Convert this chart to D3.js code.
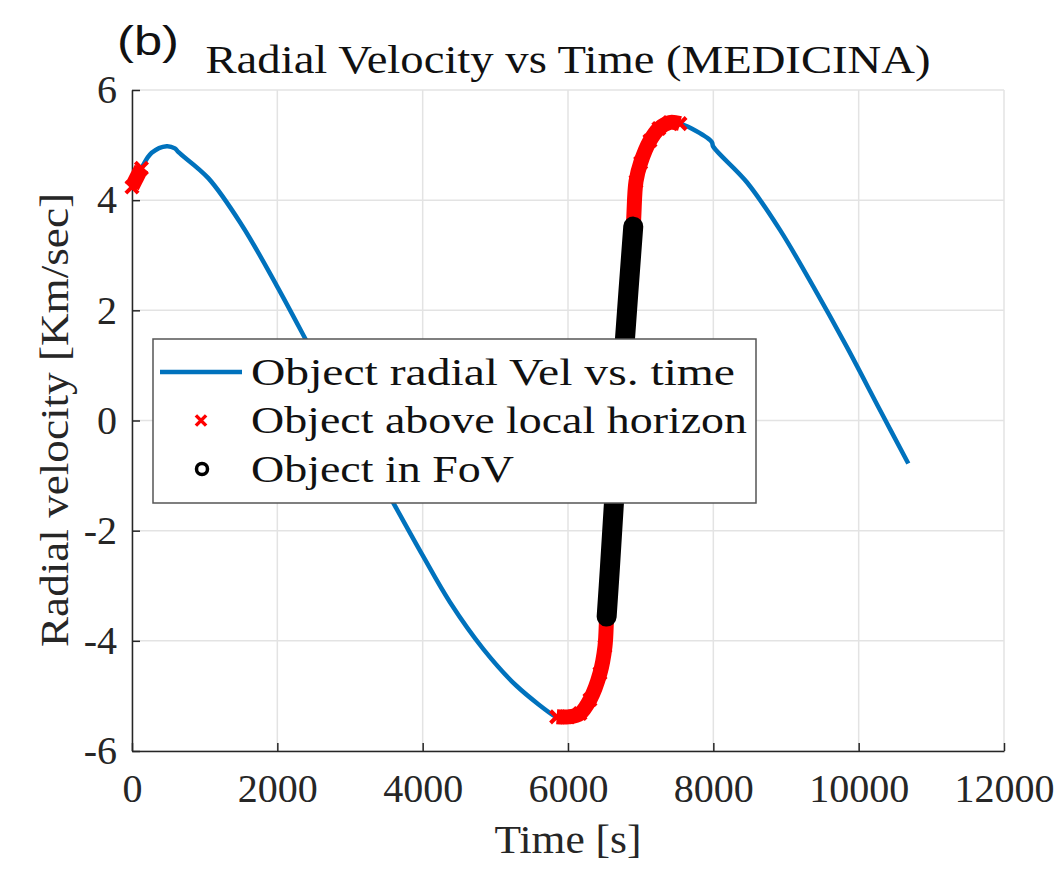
<!DOCTYPE html>
<html>
<head>
<meta charset="utf-8">
<script src="https://cdn.jsdelivr.net/npm/d3@7"></script>
<style>
  body { margin: 0; background: #fff; }
  svg { display: block; }
</style>
</head>
<body>
<svg id="chart"></svg>
<script>
// trajectory: time [s] and radial velocity [km/s]
const timeS = [0, 130, 271, 477, 590, 640, 1050, 1510, 1991, 2427, 2800, 3200,
  3619, 4000, 4376, 4835, 5294, 5821, 5844, 6004, 6165, 6302, 6440,
  6509, 6532, 6578, 6633, 6708, 6784, 6898, 6936, 7000, 7128, 7250, 7400,
  7541, 7700, 7977, 8000, 8459, 8917, 9376, 9835, 10293, 10683];
const velKms = [4.24, 4.58, 4.86, 4.98, 4.94, 4.87, 4.40, 3.55, 2.45, 1.38, 0.45, -0.55,
  -1.55, -2.45, -3.30, -4.15, -4.82, -5.37, -5.38, -5.38, -5.32, -5.07, -4.59,
  -4.10, -3.56, -2.65, -1.48, 0, 1.48, 3.52, 4.34, 4.68, 5.08, 5.30, 5.41,
  5.39, 5.30, 5.06, 4.97, 4.33, 3.46, 2.43, 1.34, 0.19, -0.78];

// time windows (s) where the object is above horizon / inside the field of view
const horizonWindows = [[0, 130], [5844, 7541]];
const fovWindows = [[6532, 6898]];

const xTicks = [0, 2000, 4000, 6000, 8000, 10000, 12000];
const yTicks = [-6, -4, -2, 0, 2, 4, 6];
const legendLabels = ['Object radial Vel vs. time', 'Object above local horizon', 'Object in FoV'];

const blue = '#0072BD';
const axisColor = '#262626';
const serif = '"Liberation Serif", "Times New Roman", serif';

const margin = {top: 90, right: 60, bottom: 122, left: 132};
const width = 1064 - margin.left - margin.right;
const height = 873 - margin.top - margin.bottom;

const root = d3.select('#chart')
  .attr('width', 1064)
  .attr('height', 873);

root.append('rect')
  .attr('width', 1064)
  .attr('height', 873)
  .attr('fill', '#fff');

const svg = root.append('g')
  .attr('transform', `translate(${margin.left}, ${margin.top})`);

const data = timeS.map((t, i) => ({t: t, v: velKms[i]}));

const x = d3.scaleLinear()
  .domain([0, 12000])
  .range([0, width]);

const y = d3.scaleLinear()
  .domain([-6, 6])
  .range([height, 0]);

// grid
svg.append('g')
  .selectAll('line')
  .data(xTicks)
  .enter()
  .append('line')
  .attr('x1', d => x(d))
  .attr('x2', d => x(d))
  .attr('y1', 0)
  .attr('y2', height)
  .attr('stroke', '#e3e3e3')
  .attr('stroke-width', 1.5);

svg.append('g')
  .selectAll('line')
  .data(yTicks)
  .enter()
  .append('line')
  .attr('x1', 0)
  .attr('x2', width)
  .attr('y1', d => y(d))
  .attr('y2', d => y(d))
  .attr('stroke', '#e3e3e3')
  .attr('stroke-width', 1.5);

// axes
const xAxis = svg.append('g')
  .attr('transform', `translate(0, ${height})`)
  .call(d3.axisBottom(x).tickValues(xTicks).tickSize(-8).tickSizeOuter(0).tickPadding(23)
    .tickFormat(d3.format('d')));

const yAxis = svg.append('g')
  .call(d3.axisLeft(y).tickValues(yTicks).tickSize(-8).tickSizeOuter(0).tickPadding(15)
    .tickFormat(d => String(d)));

[xAxis, yAxis].forEach(ax => {
  ax.select('.domain').attr('stroke', axisColor).attr('stroke-width', 1.5);
  ax.selectAll('.tick line').attr('stroke', axisColor).attr('stroke-width', 1.5);
  ax.selectAll('.tick text')
    .attr('fill', axisColor)
    .style('font-family', serif)
    .style('font-size', '40px');
});

// curve
const line = d3.line()
  .x(d => x(d.t))
  .y(d => y(d.v))
  .curve(d3.curveCatmullRom.alpha(0.5));

svg.append('path')
  .datum(data)
  .attr('fill', 'none')
  .attr('stroke', blue)
  .attr('stroke-width', 4.5)
  .attr('d', line);

// above local horizon (red x markers)
const xSymbol = d3.symbol().type(d3.symbolTimes || d3.symbolX);

horizonWindows.forEach(w => {
  const pts = data.filter(d => d.t >= w[0] && d.t <= w[1]);
  svg.append('path')
    .datum(pts)
    .attr('fill', 'none')
    .attr('stroke', 'red')
    .attr('stroke-width', 15)
    .attr('d', line);
  svg.append('g')
    .selectAll('path')
    .data(pts)
    .enter()
    .append('path')
    .attr('transform', d => `translate(${x(d.t)}, ${y(d.v)})`)
    .attr('d', xSymbol.size(100))
    .attr('fill', 'none')
    .attr('stroke', 'red')
    .attr('stroke-width', 4);
});

// in field of view (black circles)
fovWindows.forEach(w => {
  const pts = data.filter(d => d.t >= w[0] && d.t <= w[1]);
  svg.append('path')
    .datum(pts)
    .attr('fill', 'none')
    .attr('stroke', 'black')
    .attr('stroke-width', 20)
    .attr('stroke-linecap', 'round')
    .attr('d', line);
  svg.append('g')
    .selectAll('circle')
    .data(pts)
    .enter()
    .append('circle')
    .attr('cx', d => x(d.t))
    .attr('cy', d => y(d.v))
    .attr('r', 7)
    .attr('fill', 'none')
    .attr('stroke', 'black')
    .attr('stroke-width', 4);
});

// texts
root.append('text')
  .attr('x', 117)
  .attr('y', 55)
  .attr('textLength', 62)
  .attr('lengthAdjust', 'spacingAndGlyphs')
  .style('font-family', '"Liberation Sans", Arial, sans-serif')
  .style('font-size', '41px')
  .attr('fill', '#111')
  .text('(b)');

svg.append('text')
  .attr('x', width / 2)
  .attr('y', -17)
  .attr('text-anchor', 'middle')
  .attr('textLength', 725)
  .attr('lengthAdjust', 'spacingAndGlyphs')
  .style('font-family', serif)
  .style('font-size', '39px')
  .attr('fill', '#111')
  .text('Radial Velocity vs Time (MEDICINA)');

svg.append('text')
  .attr('x', width / 2)
  .attr('y', height + 102)
  .attr('text-anchor', 'middle')
  .attr('textLength', 147)
  .attr('lengthAdjust', 'spacingAndGlyphs')
  .style('font-family', serif)
  .style('font-size', '40px')
  .attr('fill', axisColor)
  .text('Time [s]');

svg.append('text')
  .attr('transform', 'rotate(-90)')
  .attr('x', -(420 - margin.top))
  .attr('y', 68 - margin.left)
  .attr('text-anchor', 'middle')
  .attr('textLength', 454)
  .attr('lengthAdjust', 'spacingAndGlyphs')
  .style('font-family', serif)
  .style('font-size', '40px')
  .attr('fill', axisColor)
  .text('Radial velocity [Km/sec]');

// legend
const legend = svg.append('g')
  .attr('transform', `translate(${153 - margin.left}, ${339 - margin.top})`);

legend.append('rect')
  .attr('width', 603)
  .attr('height', 164)
  .attr('fill', '#fff')
  .attr('stroke', '#555')
  .attr('stroke-width', 1.5);

const rowY = [33, 81.5, 130];
const textLen = [484, 496, 263];

legend.append('line')
  .attr('x1', 7)
  .attr('x2', 89)
  .attr('y1', rowY[0])
  .attr('y2', rowY[0])
  .attr('stroke', blue)
  .attr('stroke-width', 4.5);

legend.append('path')
  .attr('transform', `translate(48, ${rowY[1]})`)
  .attr('d', xSymbol.size(70))
  .attr('fill', 'none')
  .attr('stroke', 'red')
  .attr('stroke-width', 3.5);

legend.append('circle')
  .attr('cx', 49)
  .attr('cy', rowY[2])
  .attr('r', 5.5)
  .attr('fill', 'none')
  .attr('stroke', 'black')
  .attr('stroke-width', 3.5);

legend.selectAll('text.lbl')
  .data(legendLabels)
  .enter()
  .append('text')
  .attr('class', 'lbl')
  .attr('x', 98)
  .attr('y', (d, i) => rowY[i] + 12.5)
  .attr('textLength', (d, i) => textLen[i])
  .attr('lengthAdjust', 'spacingAndGlyphs')
  .style('font-family', serif)
  .style('font-size', '37px')
  .attr('fill', '#111')
  .text(d => d);
</script>
</body>
</html>
